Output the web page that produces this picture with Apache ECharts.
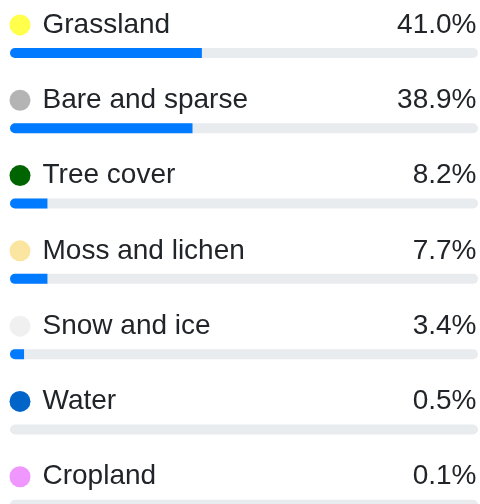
<!DOCTYPE html>
<html><head><meta charset="utf-8">
<script src="https://cdn.jsdelivr.net/npm/echarts@6/dist/echarts.min.js"></script>
<style>html,body{margin:0;padding:0;background:#fff}#c{width:480px;height:504px}</style>
</head><body><div id="c"></div>
<script>
const categories = ['Grassland', 'Bare and sparse', 'Tree cover', 'Moss and lichen', 'Snow and ice', 'Water', 'Cropland'];
const percentLabels = ['41.0%', '38.9%', '8.2%', '7.7%', '3.4%', '0.5%', '0.1%'];
const barPercents = [41, 39, 8, 8, 3, 0, 0];
const dotColors = ['#ffff4c', '#b4b4b4', '#006400', '#fae6a0', '#f0f0f0', '#0064c8', '#f096ff'];
const trackMax = 100;

const FONT = '"Liberation Sans", Arial, Helvetica, sans-serif';
const rich = { g: { width: 12 }, n: { fontSize: 28, color: '#212529', fontFamily: FONT } };
dotColors.forEach((c, i) => {
  rich['d' + i] = { width: 21, height: 21, borderRadius: 10.5, backgroundColor: c, verticalAlign: 'middle' };
});

const chart = echarts.init(document.getElementById('c'), null, { renderer: 'canvas' });
chart.setOption({
  animation: false,
  grid: { left: 10, right: 2, top: 15.3, height: 527.1, outerBoundsMode: 'none', containLabel: false },
  xAxis: { type: 'value', min: 0, max: trackMax, show: false },
  yAxis: { type: 'category', data: categories, inverse: true, show: false },
  series: [
    {
      type: 'bar', barWidth: 10, barGap: '-100%', silent: true,
      data: categories.map(() => trackMax),
      itemStyle: { color: '#e9ecef', borderRadius: 5 },
      label: {
        show: true, position: [-0.5, -23], align: 'left', verticalAlign: 'middle',
        formatter: p => '{d' + p.dataIndex + '|}{g|}{n|' + p.name + '}',
        rich: rich
      }
    },
    {
      type: 'bar', barWidth: 10, barGap: '-100%', silent: true,
      data: barPercents,
      itemStyle: { color: '#007bff', borderRadius: [5, 0, 0, 5] }
    },
    {
      type: 'bar', barWidth: 10, barGap: '-100%', silent: true,
      data: categories.map(() => trackMax),
      itemStyle: { color: 'rgba(0,0,0,0)' },
      label: {
        show: true, position: ['100%', -23], align: 'right', verticalAlign: 'middle', offset: [-1.5, 0],
        formatter: p => percentLabels[p.dataIndex],
        fontSize: 28, color: '#212529', fontFamily: FONT
      }
    }
  ]
});
</script></body></html>
